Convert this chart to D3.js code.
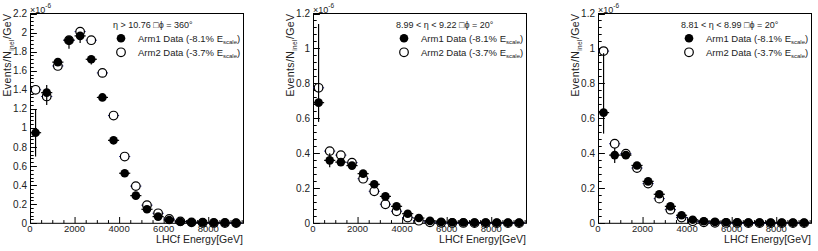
<!DOCTYPE html>
<html>
<head>
<meta charset="utf-8">
<script src="https://cdn.jsdelivr.net/npm/d3@7"></script>
<style>
body { margin: 0; background: #fff; }
text { font-family: "Liberation Sans", Arial, sans-serif; fill: #222; }
</style>
</head>
<body>
<div id="chart"></div>
<script>
// bin centres (GeV), bins are 500 GeV wide
var energy = [250, 750, 1250, 1750, 2250, 2750, 3250, 3750, 4250, 4750,
              5250, 5750, 6250, 6750, 7250, 7750, 8250, 8750, 9250];
var binHalf = 250;

// eta > 10.76
var arm1Eta1 = [0.95, 1.37, 1.69, 1.92, 1.965, 1.72, 1.32, 0.87, 0.525, 0.29,
                0.147, 0.07, 0.035, 0.016, 0.011, 0.008, 0.006, 0.005, 0.004];
var arm1Eta1Err = [[0.25, 0.24], [0.13, 0.08], [0.04, 0.04], [0.09, 0.03], [0.075, 0.03],
                   [0.055, 0.03], [0.02, 0.02], [0.015, 0.015], [0.015, 0.015], [0.01, 0.01],
                   [0.01, 0.01], [0.005, 0.005], [0.005, 0.005], [0.003, 0.003], [0.003, 0.003],
                   [0.002, 0.002], [0.002, 0.002], [0.002, 0.002], [0.002, 0.002]];
var arm2Eta1 = [1.40, 1.33, 1.65, 1.92, 2.01, 1.92, 1.577, 1.13, 0.70, 0.39,
                0.19, 0.105, 0.045, 0.02, 0.01, 0.006, 0.004, 0.003, 0.002];

// 8.99 < eta < 9.22
var arm1Eta2 = [0.69, 0.36, 0.35, 0.33, 0.284, 0.223, 0.154, 0.097, 0.055, 0.03,
                0.014, 0.008, 0.006, 0.005, 0.004, 0.004, 0.003, 0.003, 0.003];
var arm1Eta2Err = [[0.11, 0.45], [0.04, 0.04], [0.015, 0.015], [0.015, 0.015], [0.015, 0.015],
                   [0.015, 0.015], [0.01, 0.01], [0.01, 0.01], [0.008, 0.008], [0.005, 0.005],
                   [0.003, 0.003], [0.002, 0.002], [0.002, 0.002], [0.002, 0.002], [0.002, 0.002],
                   [0.002, 0.002], [0.002, 0.002], [0.002, 0.002], [0.002, 0.002]];
var arm2Eta2 = [0.775, 0.413, 0.39, 0.347, 0.255, 0.183, 0.109, 0.069, 0.033, 0.015,
                0.006, 0.003, 0.002, 0.002, 0.001, 0.001, 0.001, 0.001, 0.001];

// 8.81 < eta < 8.99
var arm1Eta3 = [0.633, 0.39, 0.39, 0.331, 0.24, 0.166, 0.097, 0.046, 0.02, 0.012,
                0.008, 0.006, 0.005, 0.004, 0.004, 0.003, 0.003, 0.003, 0.003];
var arm1Eta3Err = [[0.12, 0.34], [0.045, 0.04], [0.015, 0.015], [0.015, 0.015], [0.015, 0.015],
                   [0.015, 0.015], [0.01, 0.01], [0.008, 0.008], [0.005, 0.005], [0.003, 0.003],
                   [0.002, 0.002], [0.002, 0.002], [0.002, 0.002], [0.002, 0.002], [0.002, 0.002],
                   [0.002, 0.002], [0.002, 0.002], [0.002, 0.002], [0.002, 0.002]];
var arm2Eta3 = [0.985, 0.455, 0.398, 0.316, 0.227, 0.141, 0.078, 0.033, 0.012, 0.006,
                0.003, 0.002, 0.002, 0.001, 0.001, 0.001, 0.001, 0.001, 0.001];

var xTicks = [0, 2000, 4000, 6000, 8000];
var legendArm1 = "Arm1 Data (-8.1% E";
var legendArm2 = "Arm2 Data (-3.7% E";

var panels = [
  { left: 30,  yMax: 2.2, header: "\u03b7 > 10.76   \u25a1\u03d5 = 360\u00b0",
    arm1: arm1Eta1, arm1Err: arm1Eta1Err, arm2: arm2Eta1 },
  { left: 313, yMax: 1.2, header: "8.99 < \u03b7 < 9.22   \u25a1\u03d5 = 20\u00b0",
    arm1: arm1Eta2, arm1Err: arm1Eta2Err, arm2: arm2Eta2 },
  { left: 598, yMax: 1.2, header: "8.81 < \u03b7 < 8.99   \u25a1\u03d5 = 20\u00b0",
    arm1: arm1Eta3, arm1Err: arm1Eta3Err, arm2: arm2Eta3 }
];

var W = 818, H = 251;
var pw = 213, plotTop = 13.5, plotBottom = 223.3;
var navy = "#1c1c8c";
var r = 4.3;

var svg = d3.select("#chart").append("svg")
    .attr("width", W).attr("height", H);

panels.forEach(function(p) {
  var g = svg.append("g").attr("transform", "translate(" + p.left + ",0)");

  var x = d3.scaleLinear().domain([0, 9560]).range([0, pw]);
  var y = d3.scaleLinear().domain([0, p.yMax]).range([plotBottom, plotTop]);

  // frame
  g.append("rect")
      .attr("x", 0.5).attr("y", plotTop)
      .attr("width", pw).attr("height", plotBottom - plotTop)
      .attr("fill", "none").attr("stroke", "#000").attr("stroke-width", 1);

  // x ticks (drawn inward)
  var xMinor = d3.range(0, 9501, 500);
  g.selectAll(".xt").data(xMinor).enter().append("line")
      .attr("x1", function(d) { return x(d) + 0.5; })
      .attr("x2", function(d) { return x(d) + 0.5; })
      .attr("y1", plotBottom)
      .attr("y2", function(d) { return d % 2000 === 0 ? plotBottom - 6.3 : plotBottom - 3.2; })
      .attr("stroke", "#000");

  g.selectAll(".xl").data(xTicks).enter().append("text")
      .attr("x", function(d) { return x(d); })
      .attr("y", 232)
      .attr("text-anchor", "middle")
      .style("font-size", "9.5px")
      .text(function(d) { return d; });

  // y ticks
  var yMajor = d3.range(0, p.yMax + 0.001, 0.2);
  var yMinor = d3.range(0, p.yMax + 0.001, 0.04);
  g.selectAll(".yt").data(yMinor).enter().append("line")
      .attr("x1", 0.5)
      .attr("x2", function(d) {
        var m = Math.abs(d / 0.2 - Math.round(d / 0.2)) < 1e-6;
        return m ? 6.9 : 3.7;
      })
      .attr("y1", function(d) { return Math.round(y(d)) + 0.5; })
      .attr("y2", function(d) { return Math.round(y(d)) + 0.5; })
      .attr("stroke", "#000");

  g.selectAll(".yl").data(yMajor).enter().append("text")
      .attr("x", -3)
      .attr("y", function(d) { return y(d); })
      .attr("dy", "0.35em")
      .attr("text-anchor", "end")
      .style("font-size", "10px")
      .text(function(d) { return +d.toFixed(1); });

  // exponent
  var ex = g.append("text").attr("x", 0).attr("y", 12.5).style("font-size", "9px");
  ex.append("tspan").text("\u00d710");
  ex.append("tspan").attr("dy", -4.5).style("font-size", "6.5px").text("-6");

  // axis titles
  var yt = g.append("text")
      .attr("transform", "translate(-19," + plotTop + ") rotate(-90)")
      .attr("text-anchor", "end")
      .style("font-size", "10.5px")
      .style("letter-spacing", "0.4px");
  yt.append("tspan").text("Events/N");
  yt.append("tspan").attr("dy", 2.5).style("font-size", "6.5px").text("inel");
  yt.append("tspan").attr("dy", -2.5).text("/GeV");

  g.append("text")
      .attr("x", pw).attr("y", 243)
      .attr("text-anchor", "end")
      .style("font-size", "10.5px")
      .text("LHCf Energy[GeV]");

  // Arm2: navy horizontal bars, open markers
  var arm2 = energy.map(function(e, i) { return { e: e, v: p.arm2[i] }; });
  g.selectAll(".a2h").data(arm2).enter().append("line")
      .attr("x1", function(d) { return x(d.e - binHalf); })
      .attr("x2", function(d) { return x(d.e + binHalf); })
      .attr("y1", function(d) { return y(d.v); })
      .attr("y2", function(d) { return y(d.v); })
      .attr("stroke", navy).attr("stroke-width", 1);
  g.selectAll(".a2").data(arm2).enter().append("circle")
      .attr("cx", function(d) { return x(d.e); })
      .attr("cy", function(d) { return y(d.v); })
      .attr("r", r)
      .attr("fill", "#fff").attr("stroke", "#000").attr("stroke-width", 1.2);

  // Arm1: black error bars, filled markers
  var arm1 = energy.map(function(e, i) {
    return { e: e, v: p.arm1[i], lo: p.arm1[i] - p.arm1Err[i][0], hi: p.arm1[i] + p.arm1Err[i][1] };
  });
  g.selectAll(".a1h").data(arm1).enter().append("line")
      .attr("x1", function(d) { return x(d.e - binHalf); })
      .attr("x2", function(d) { return x(d.e + binHalf); })
      .attr("y1", function(d) { return y(d.v); })
      .attr("y2", function(d) { return y(d.v); })
      .attr("stroke", "#000").attr("stroke-width", 1.2);
  g.selectAll(".a1v").data(arm1).enter().append("line")
      .attr("x1", function(d) { return x(d.e); })
      .attr("x2", function(d) { return x(d.e); })
      .attr("y1", function(d) { return y(d.lo); })
      .attr("y2", function(d) { return y(d.hi); })
      .attr("stroke", "#000").attr("stroke-width", 1.2);
  g.selectAll(".a1").data(arm1).enter().append("circle")
      .attr("cx", function(d) { return x(d.e); })
      .attr("cy", function(d) { return y(d.v); })
      .attr("r", r)
      .attr("fill", "#000");

  // legend
  g.append("text").attr("x", 83).attr("y", 27.5)
      .style("font-size", "9px").text(p.header);

  [[legendArm1, true, 38.3, 41.8], [legendArm2, false, 52.3, 55.8]].forEach(function(l) {
    g.append("circle").attr("cx", 91).attr("cy", l[2]).attr("r", r)
        .attr("fill", l[1] ? "#000" : "#fff")
        .attr("stroke", "#000").attr("stroke-width", l[1] ? 0 : 1.2);
    var t = g.append("text").attr("x", 108).attr("y", l[3]).style("font-size", "9.5px");
    t.append("tspan").text(l[0]);
    t.append("tspan").attr("dy", 2.5).style("font-size", "6px").text("scale");
    t.append("tspan").attr("dy", -2.5).text(")");
  });
});
</script>
</body>
</html>
